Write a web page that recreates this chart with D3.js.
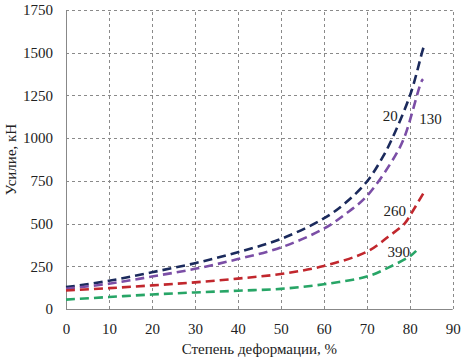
<!DOCTYPE html>
<html>
<head>
<meta charset="utf-8">
<script src="https://cdn.jsdelivr.net/npm/d3@7"></script>
<style>
  body { margin: 0; background: #fff; }
</style>
</head>
<body>
<div class="container"></div>
<script>
const WIDTH = 463;
const HEIGHT = 362;
const MARGIN = {top: 10, right: 10, bottom: 53, left: 66};
const FONT = 'Liberation Serif';

// data
var seriesNames = ["20", "130", "260", "390"];
var x20  = [0, 10, 20, 30, 40, 50, 60, 65, 70, 73.8, 76.1, 80.2, 82.9, 83.2];
var y20  = [128, 165, 215, 268, 332, 410, 530, 620, 745, 893, 1008, 1260, 1505, 1530];
var x130 = [0, 10, 20, 30, 40, 50, 60, 65, 70, 76.5, 78.8, 82.7, 83.1];
var y130 = [118, 148, 190, 235, 292, 360, 470, 555, 660, 892, 1008, 1330, 1345];
var x260 = [0, 10, 20, 30, 40, 50, 60, 70, 75, 78.8, 80.5, 83.3];
var y260 = [108, 122, 138, 156, 178, 205, 252, 335, 423, 500, 565, 683];
var x390 = [0, 10, 20, 30, 40, 50, 60, 70, 75, 80, 81.5];
var y390 = [55, 70, 85, 97, 107, 118, 145, 190, 242, 308, 340];

var xTicks = [0, 10, 20, 30, 40, 50, 60, 70, 80, 90];
var yTicks = [0, 250, 500, 750, 1000, 1250, 1500, 1750];

// where the curve labels sit, in data units
var labelX = [73.7, 82.2, 73.9, 74.8];
var labelY = [1100, 1085, 545, 305];

var colours = ["#1b2a5c", "#7b4ea6", "#c1272d", "#27a566"];

var series = [
    {name: seriesNames[0], xs: x20, ys: y20},
    {name: seriesNames[1], xs: x130, ys: y130},
    {name: seriesNames[2], xs: x260, ys: y260},
    {name: seriesNames[3], xs: x390, ys: y390}
];

var svg = d3.select('.container').append('svg')
    .attr('width', WIDTH)
    .attr('height', HEIGHT)
    .attr('font-family', FONT);

var xScale = d3.scaleLinear().domain([0, 90]).range([MARGIN.left, WIDTH - MARGIN.right - 0.3]);
var yScale = d3.scaleLinear().domain([0, 1750]).range([HEIGHT - MARGIN.bottom, MARGIN.top]);

// grid
var grid = svg.append('g')
    .attr('stroke', '#8a8a8a')
    .attr('stroke-width', 1)
    .attr('stroke-dasharray', '3,3');

grid.selectAll('.vgrid')
    .data(xTicks.slice(1))
    .enter().append('line')
    .attr('x1', function(d){ return Math.round(xScale(d)) + 0.5; })
    .attr('x2', function(d){ return Math.round(xScale(d)) + 0.5; })
    .attr('y1', yScale(0))
    .attr('y2', yScale(1750));

grid.selectAll('.hgrid')
    .data(yTicks.slice(1))
    .enter().append('line')
    .attr('y1', function(d){ return Math.round(yScale(d)) + 0.5; })
    .attr('y2', function(d){ return Math.round(yScale(d)) + 0.5; })
    .attr('x1', xScale(0))
    .attr('x2', xScale(90));

// axes
var xAxis = d3.axisBottom(xScale).tickValues(xTicks).tickSize(0).tickPadding(14).tickFormat(d3.format('d'));
var yAxis = d3.axisLeft(yScale).tickValues(yTicks).tickSize(0).tickPadding(13).tickFormat(d3.format('d'));

svg.append('g')
    .attr('transform', 'translate(0,' + yScale(0) + ')')
    .call(xAxis)
    .attr('font-family', FONT)
    .attr('font-size', 15)
    .call(function(g){ g.select('.domain').remove(); })
    .selectAll('text')
    .attr('fill', '#222');

svg.append('g')
    .attr('transform', 'translate(' + xScale(0) + ',0)')
    .call(yAxis)
    .attr('font-family', FONT)
    .attr('font-size', 15)
    .call(function(g){ g.select('.domain').remove(); })
    .selectAll('text')
    .attr('fill', '#222');

// solid axis lines
svg.append('line')
    .attr('x1', Math.round(xScale(0)) + 0.5).attr('x2', Math.round(xScale(0)) + 0.5)
    .attr('y1', yScale(1750)).attr('y2', yScale(0))
    .attr('stroke', '#888');
svg.append('line')
    .attr('x1', xScale(0)).attr('x2', xScale(90))
    .attr('y1', Math.round(yScale(0)) + 0.5).attr('y2', Math.round(yScale(0)) + 0.5)
    .attr('stroke', '#888');

// curves
var line = d3.line()
    .curve(d3.curveCatmullRom.alpha(0.5))
    .x(function(d){ return xScale(d[0]); })
    .y(function(d){ return yScale(d[1]); });

series.forEach(function(s, i) {
    var pts = s.xs.map(function(x, j){ return [x, s.ys[j]]; });
    svg.append('path')
        .attr('d', line(pts))
        .attr('fill', 'none')
        .attr('stroke', colours[i])
        .attr('stroke-width', 2.6)
        .attr('stroke-dasharray', '9,5');
    svg.append('text')
        .attr('x', xScale(labelX[i]))
        .attr('y', yScale(labelY[i]))
        .attr('font-size', 15)
        .attr('fill', '#222')
        .text(s.name);
});

// titles
svg.append('text')
    .attr('x', (xScale(0) + xScale(90)) / 2)
    .attr('y', 354)
    .attr('text-anchor', 'middle')
    .attr('font-size', 15)
    .attr('fill', '#222')
    .text('Степень деформации, %');

svg.append('text')
    .attr('transform', 'translate(16,' + (yScale(875)) + ') rotate(-90)')
    .attr('text-anchor', 'middle')
    .attr('font-size', 15)
    .attr('fill', '#222')
    .text('Усилие, кН');
</script>
</body>
</html>
